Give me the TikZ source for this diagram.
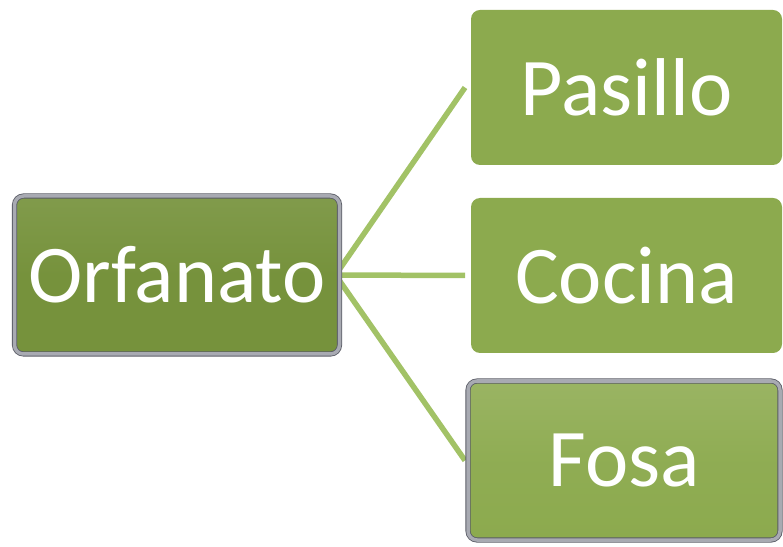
\documentclass[tikz,border=0pt]{standalone}
\usepackage{fontspec}
\setmainfont{Carlito}
\usetikzlibrary{backgrounds}
\definecolor{boxgreen}{HTML}{8CAA4E}
\definecolor{darkgreen}{HTML}{76923C}
\definecolor{linegreen}{HTML}{A2C266}
\definecolor{rimgray}{HTML}{A8AAB2}
\definecolor{rimdark}{HTML}{5A5C66}
\tikzset{
  x=1pt, y=1pt,
  box/.style={rounded corners=9pt, inner sep=0pt, outer sep=0pt,
    text=white, font=\fontsize{82}{84}\selectfont,
    minimum width=311pt, minimum height=155pt},
  flatbox/.style={box, fill=boxgreen},
  rimbox/.style={box, draw=rimdark, double=rimgray, double distance=3.5pt, line width=0.8pt},
  link/.style={draw=linegreen, line width=5.5pt}
}
\begin{document}
\begin{tikzpicture}
\useasboundingbox (0,0) rectangle (783,546);
\node[rimbox, top color=darkgreen!92!white, bottom color=darkgreen, middle color=darkgreen,
  minimum width=325pt, minimum height=158pt] (orf) at (177,271) {Orfanato};
\node[flatbox] (pas) at (626.5,458.5) {Pasillo};
\node[flatbox] (coc) at (626.5,270.5) {Cocina};
\node[rimbox, top color=boxgreen!88!white, bottom color=boxgreen, middle color=boxgreen!97!white,
  minimum width=312pt, minimum height=159pt] (fos) at (624,85.5) {Fosa};
\begin{scope}[on background layer]
  \coordinate (hub) at ([xshift=-4pt]orf.east);
  \draw[link] (hub) -- ([xshift=-6pt]pas.west);
  \draw[link] (hub) -- ([xshift=-6pt]coc.west);
  \draw[link] (hub) -- ([xshift=-3pt]fos.west);
\end{scope}
\end{tikzpicture}
\end{document}
